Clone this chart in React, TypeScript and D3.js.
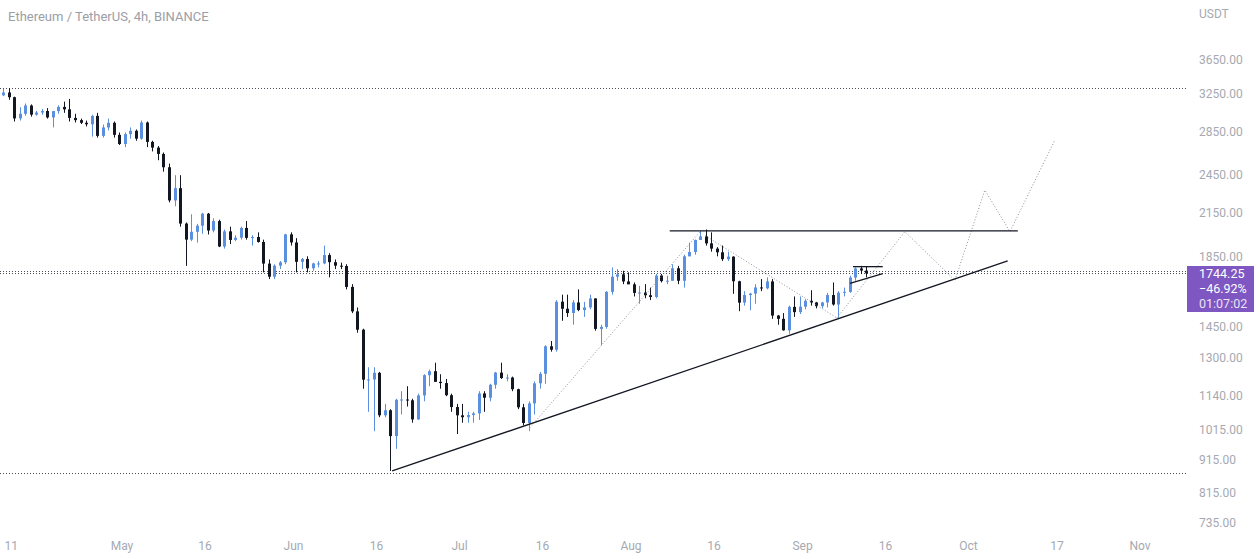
import React from "react";
import * as d3 from "d3";

// ---------- DATA (daily candles, ETH/USDT) ----------
const firstDay = "2022-04-09";
const opens = [
  3230, 3262, 3209, 2982, 3030, 3118, 3021, 3043, 3059, 2992, 3058, 3103, 3077, 2987, 2964, 2937, 2922, 3008, 2807, 2890, 2937, 2817,
  2729, 2824, 2857, 2780, 2940, 2749, 2695, 2637, 2518, 2245, 2342, 2072, 1960, 2014, 2057, 2144, 2023, 2090, 1914, 2017, 1958, 1973, 2041, 1972, 1978, 1944, 1804, 1724, 1791, 1812, 1996,
  1941, 1815, 1833, 1775, 1805, 1805, 1858, 1813, 1791, 1789, 1664, 1529, 1435, 1207, 1208, 1236, 1067, 1086, 993, 1126, 1127, 1124, 1052, 1143, 1226, 1243, 1198, 1193, 1144, 1098,
  1067, 1060, 1068, 1074, 1151, 1134, 1186, 1237, 1214, 1216, 1168, 1097, 1039, 1112, 1192, 1232, 1355, 1339, 1581, 1543, 1520, 1577, 1536, 1550, 1599, 1439, 1449, 1636, 1724, 1738, 1696,
  1679, 1630, 1632, 1617, 1607, 1731, 1698, 1700, 1775, 1700, 1850, 1878, 1958, 1982, 1935, 1900, 1876, 1832, 1848, 1697, 1576, 1618, 1626, 1661, 1656, 1696, 1507, 1490, 1432, 1553, 1525,
  1554, 1586, 1577, 1557, 1577, 1618, 1566, 1631, 1636, 1719, 1774, 1761,
];
const highs = [
  3300, 3310, 3215, 3100, 3140, 3130, 3060, 3080, 3090, 3060, 3120, 3160, 3190, 3030, 2980, 2960, 3020, 3040, 2920, 2980, 2950, 2840,
  2840, 2890, 2870, 2960, 2950, 2760, 2710, 2650, 2550, 2450, 2450, 2080, 2140, 2070, 2150, 2150, 2110, 2100, 2030, 2050, 1990, 2050, 2090, 1990, 2010, 1960, 1830, 1800, 1820, 2000, 2010,
  1970, 1840, 1850, 1810, 1820, 1920, 1870, 1830, 1810, 1800, 1680, 1550, 1440, 1260, 1260, 1240, 1110, 1090, 1130, 1160, 1180, 1130, 1150, 1230, 1250, 1280, 1230, 1210, 1150, 1110,
  1110, 1080, 1080, 1160, 1160, 1190, 1240, 1280, 1230, 1220, 1170, 1110, 1120, 1200, 1240, 1360, 1380, 1590, 1620, 1620, 1590, 1650, 1580, 1620, 1600, 1460, 1640, 1780, 1770, 1760, 1750,
  1690, 1670, 1680, 1660, 1740, 1740, 1730, 1800, 1790, 1860, 1940, 1960, 2020, 2030, 2010, 1910, 1920, 1880, 1850, 1700, 1640, 1630, 1680, 1710, 1720, 1710, 1510, 1520, 1560, 1610, 1610,
  1595, 1645, 1580, 1580, 1630, 1690, 1640, 1660, 1730, 1780, 1790, 1785,
];
const lows = [
  3220, 3180, 2950, 2960, 3010, 3000, 3010, 3020, 2980, 2890, 3030, 3040, 2950, 2940, 2925, 2900, 2800, 2790, 2790, 2860, 2790, 2720,
  2700, 2780, 2760, 2770, 2700, 2660, 2580, 2480, 2230, 2200, 2050, 1790, 1950, 1940, 2000, 1995, 2010, 1910, 1900, 1930, 1950, 1960, 1960, 1920, 1940, 1750, 1710, 1710, 1770, 1800, 1920,
  1750, 1770, 1750, 1760, 1780, 1800, 1720, 1770, 1770, 1650, 1520, 1420, 1170, 1080, 1010, 1060, 1060, 880, 950, 1070, 1100, 1040, 1050, 1120, 1180, 1200, 1170, 1140, 1080, 1000,
  1040, 1040, 1040, 1050, 1080, 1120, 1170, 1210, 1200, 1160, 1090, 1030, 1010, 1070, 1170, 1190, 1330, 1330, 1480, 1500, 1460, 1530, 1500, 1540, 1430, 1360, 1440, 1620, 1700, 1680, 1680,
  1610, 1570, 1600, 1590, 1600, 1690, 1680, 1700, 1680, 1660, 1850, 1860, 1960, 1920, 1880, 1850, 1820, 1820, 1625, 1530, 1560, 1535, 1570, 1640, 1650, 1490, 1460, 1430, 1415, 1500, 1515,
  1540, 1560, 1545, 1545, 1550, 1560, 1495, 1610, 1630, 1700, 1740, 1720,
];
const closes = [
  3262, 3209, 2982, 3030, 3118, 3021, 3043, 3059, 2992, 3058, 3103, 3077, 2987, 2964, 2937, 2922, 3008, 2807, 2890, 2937, 2817, 2729,
  2824, 2857, 2780, 2940, 2749, 2695, 2637, 2518, 2245, 2342, 2072, 1960, 2014, 2057, 2144, 2023, 2090, 1914, 2017, 1958, 1973, 2041, 1972, 1978, 1944, 1804, 1724, 1791, 1812, 1996, 1941,
  1815, 1833, 1775, 1805, 1805, 1858, 1813, 1791, 1789, 1664, 1529, 1435, 1207, 1208, 1236, 1067, 1086, 993, 1126, 1127, 1124, 1052, 1143, 1226, 1243, 1198, 1193, 1144, 1098, 1067,
  1060, 1068, 1074, 1151, 1134, 1186, 1237, 1214, 1216, 1168, 1097, 1039, 1112, 1192, 1232, 1355, 1339, 1581, 1543, 1520, 1577, 1536, 1550, 1599, 1439, 1449, 1636, 1724, 1738, 1696, 1679,
  1630, 1632, 1617, 1607, 1731, 1698, 1700, 1775, 1700, 1850, 1878, 1958, 1982, 1935, 1900, 1876, 1832, 1848, 1697, 1576, 1618, 1626, 1661, 1656, 1696, 1507, 1490, 1432, 1553, 1525, 1554,
  1586, 1577, 1557, 1577, 1618, 1566, 1631, 1636, 1719, 1774, 1761, 1744.25,
];

const priceTicks = [3650, 3250, 2850, 2450, 2150, 1850, 1450, 1300, 1140, 1015, 915, 815, 735];
const timeTicks = [
  "2022-04-11", "2022-05-01", "2022-05-16", "2022-06-01", "2022-06-16", "2022-07-01", "2022-07-16",
  "2022-08-01", "2022-08-16", "2022-09-01", "2022-09-16", "2022-10-01", "2022-10-17", "2022-11-01",
];
const timeTickLabels = ["11", "May", "16", "Jun", "16", "Jul", "16", "Aug", "16", "Sep", "16", "Oct", "17", "Nov"];

// horizontal dotted price levels
const dottedLevels = [3313, 1760, 1744.25, 874];

// drawn objects: [time, price]
const resistanceLine = [["2022-08-08T00:00Z", 2020], ["2022-10-09T22:00Z", 2020]];
const supportTrend = [["2022-06-18T20:00Z", 880], ["2022-10-08T02:00Z", 1821]];
const projUp = [["2022-07-13T17:00Z", 1022], ["2022-08-13T12:00Z", 2015]];
const projDown = [["2022-08-14T10:00Z", 1987], ["2022-09-07T05:00Z", 1495]];
const projZigzag = [
  ["2022-09-07T05:00Z", 1495], ["2022-09-19T12:00Z", 2015], ["2022-09-28T13:00Z", 1702],
  ["2022-10-03T23:00Z", 2327], ["2022-10-08T12:00Z", 2015], ["2022-10-16T15:00Z", 2768],
];
const triTop = [["2022-09-10T03:00Z", 1785], ["2022-09-15T12:00Z", 1785]];
const triBottom = [["2022-09-09T14:00Z", 1685], ["2022-09-15T12:00Z", 1742]];

const lastPriceText = "1744.25";
const changeText = "\u221246.92%";
const countdownText = "01:07:02";
const titleText = "Ethereum / TetherUS, 4h, BINANCE";
const currencyText = "USDT";

// ---------- CHART ----------
const W = 1260;
const H = 559;
const plotRight = 1186;
const UP = "#5b8fe0";
const DOWN = "#131722";
const AXIS_TEXT = "#a6a9b1";
const FONT = "Roboto, 'Noto Sans', sans-serif";

export default function App() {
  const x = d3
    .scaleUtc()
    .domain([new Date("2022-05-01T00:00:00Z"), new Date("2022-11-01T00:00:00Z")])
    .range([122, 1140]);
  const y = d3.scaleLog().domain([735, 3650]).range([523, 60]);

  const day0 = new Date(firstDay + "T00:00:00Z").getTime();
  const DAY = 86400000;

  const candles = closes.map((c, i) => {
    const o = opens[i];
    const h = highs[i];
    const l = lows[i];
    const xc = Math.round(x(new Date(day0 + i * DAY + DAY / 2)));
    const up = c >= o;
    const yTop = y(Math.max(o, c));
    const yBot = y(Math.min(o, c));
    return (
      <g key={i}>
        <line x1={xc + 0.5} x2={xc + 0.5} y1={y(h)} y2={y(l)} stroke={up ? UP : DOWN} strokeWidth={1} />
        <rect x={xc - 1} y={yTop} width={3} height={Math.max(1, yBot - yTop)} fill={up ? UP : DOWN} />
      </g>
    );
  });

  const pathOf = (pts: any[]) =>
    d3.line<any>()
      .x((p) => x(new Date(p[0])))
      .y((p) => y(p[1]))(pts) as string;

  return (
    <div style={{ position: "absolute", left: 0, top: 0, width: W, height: H, background: "#fff" }}>
      <svg width={W} height={H} style={{ display: "block", fontFamily: FONT }}>
        <rect x={0} y={0} width={W} height={H} fill="#ffffff" />
        <defs>
          <clipPath id="plot">
            <rect x={0} y={0} width={plotRight} height={532} />
          </clipPath>
        </defs>
        <g clipPath="url(#plot)">
          {dottedLevels.map((p, i) => (
            <line
              key={i}
              x1={0}
              x2={plotRight}
              y1={Math.round(y(p)) + 0.5}
              y2={Math.round(y(p)) + 0.5}
              stroke="#4a4e59"
              strokeWidth={1}
              strokeDasharray="1,2"
            />
          ))}
          {candles}
          <path d={pathOf(projUp)} fill="none" stroke="#8d9099" strokeWidth={1} strokeDasharray="1,2" />
          <path d={pathOf(projDown)} fill="none" stroke="#8d9099" strokeWidth={1} strokeDasharray="1,2" />
          <path d={pathOf(projZigzag)} fill="none" stroke="#8d9099" strokeWidth={1} strokeDasharray="1,2" />
          <path d={pathOf(resistanceLine)} fill="none" stroke="#131722" strokeWidth={1.3} />
          <path d={pathOf(supportTrend)} fill="none" stroke="#131722" strokeWidth={1.3} />
          <path d={pathOf(triTop)} fill="none" stroke="#131722" strokeWidth={1.3} />
          <path d={pathOf(triBottom)} fill="none" stroke="#131722" strokeWidth={1.3} />
        </g>

        <text x={8} y={16} dy="0.35em" fontSize={13} fill="#9b9ea6">
          {titleText}
        </text>

        {/* price axis */}
        <text x={1199} y={14} dy="0.35em" fontSize={12} fill={AXIS_TEXT}>
          {currencyText}
        </text>
        {priceTicks.map((p) => (
          <text key={p} x={1199} y={y(p)} dy="0.35em" fontSize={12} fill={AXIS_TEXT}>
            {d3.format(".2f")(p)}
          </text>
        ))}
        <rect x={1187} y={266} width={67} height={46} fill="#7e57c2" />
        <text x={1199} y={274} dy="0.35em" fontSize={12.5} fill="#ffffff">
          {lastPriceText}
        </text>
        <text x={1199} y={289} dy="0.35em" fontSize={12.5} fill="#ffffff">
          {changeText}
        </text>
        <text x={1199} y={304} dy="0.35em" fontSize={12.5} fill="#ffffff" fillOpacity={0.85}>
          {countdownText}
        </text>

        {/* time axis */}
        {timeTicks.map((t, i) => (
          <text
            key={t}
            x={x(new Date(t + "T00:00:00Z"))}
            y={546}
            dy="0.35em"
            fontSize={12}
            textAnchor="middle"
            fill={AXIS_TEXT}
          >
            {timeTickLabels[i]}
          </text>
        ))}
      </svg>
    </div>
  );
}
